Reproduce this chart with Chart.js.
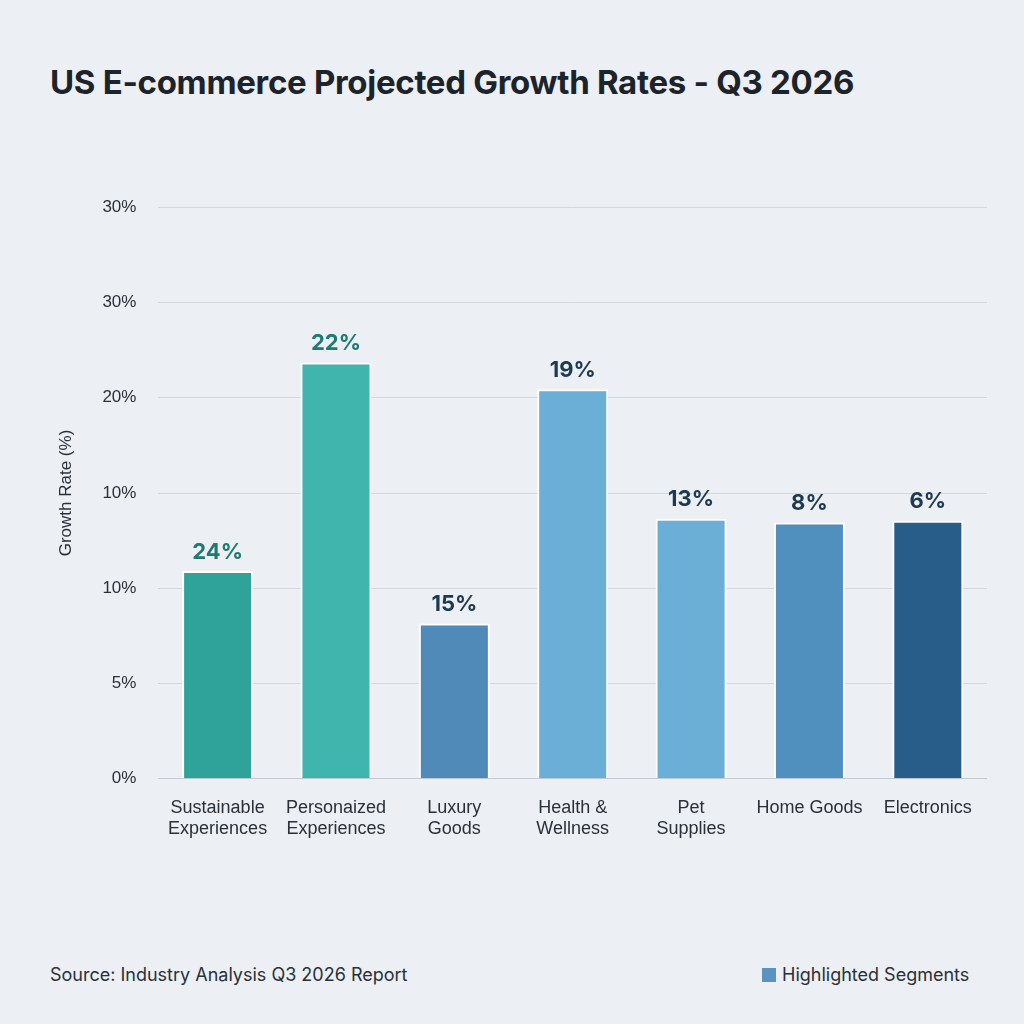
<!DOCTYPE html>
<html>
<head>
<meta charset="utf-8">
<script src="https://cdn.jsdelivr.net/npm/chart.js@4.4.1/dist/chart.umd.min.js"></script>
<style>
  html, body { margin: 0; padding: 0; background: #eceff3; }
  body { width: 1024px; height: 1024px; position: relative; font-family: Inter, "Noto Sans", sans-serif; }
  h1 { position: absolute; left: 50px; top: 62px; margin: 0; font-size: 33px; font-weight: 700; color: #1d232b; letter-spacing: -0.3px; }
  #wrap { position: absolute; left: 52px; top: 175px; width: 935px; height: 675px; }
  .source { position: absolute; left: 50px; top: 964px; font-size: 18px; color: #2a3038; }
  .legend { position: absolute; left: 762px; top: 964px; font-size: 18px; color: #2a3038; }
  .legend span { display: inline-block; width: 14px; height: 14px; background: #5b93c0; margin-right: 6px; vertical-align: -1px; }
</style>
</head>
<body>
<h1>US E-commerce Projected Growth Rates - Q3 2026</h1>
<div id="wrap"><canvas id="chart"></canvas></div>
<div class="source">Source: Industry Analysis Q3 2026 Report</div>
<div class="legend"><span></span>Highlighted Segments</div>
<script>
const categories = [['Sustainable', 'Experiences'], ['Personaized', 'Experiences'], ['Luxury', 'Goods'], ['Health &', 'Wellness'], ['Pet', 'Supplies'], 'Home Goods', 'Electronics'];
// bar heights in axis steps (the printed axis labels are uneven)
const barHeights = [2.18, 4.37, 1.63, 4.09, 2.73, 2.69, 2.71];
const valueLabels = ['24%', '22%', '15%', '19%', '13%', '8%', '6%'];
const tickLabels = ['0%', '5%', '10%', '10%', '20%', '30%', '30%'];
const barColors = ['#2fa39a', '#40b5ad', '#4f8ab8', '#6cafd6', '#6cafd6', '#5090bf', '#285d8a'];
const labelColors = ['#1f7a70', '#1f7a70', '#1e3a4f', '#1e3a4f', '#1e3a4f', '#1e3a4f', '#1e3a4f'];

const valueLabelPlugin = {
  id: 'valueLabels',
  afterDatasetsDraw(chart) {
    const ctx = chart.ctx;
    chart.getDatasetMeta(0).data.forEach((bar, i) => {
      ctx.save();
      ctx.font = '700 22px Inter, "Noto Sans", sans-serif';
      ctx.fillStyle = labelColors[i];
      ctx.textAlign = 'center';
      ctx.textBaseline = 'bottom';
      ctx.fillText(valueLabels[i], bar.x, bar.y - 8);
      ctx.restore();
    });
  }
};

new Chart(document.getElementById('chart'), {
  type: 'bar',
  data: {
    labels: categories,
    datasets: [{
      data: barHeights,
      backgroundColor: barColors,
      borderColor: '#ffffff',
      borderWidth: 2,
      borderSkipped: 'bottom',
      categoryPercentage: 0.6,
      barPercentage: 1
    }]
  },
  options: {
    responsive: true,
    maintainAspectRatio: false,
    animation: false,
    layout: { padding: { top: 10 } },
    plugins: { legend: { display: false }, tooltip: { enabled: false } },
    scales: {
      y: {
        min: 0, max: 6,
        ticks: {
          stepSize: 1,
          color: '#2a3038',
          font: { size: 17 },
          padding: 22,
          callback: (v) => tickLabels[v]
        },
        grid: { color: '#d3d8de', drawTicks: false },
        border: { display: false },
        title: { display: true, text: 'Growth Rate (%)', color: '#2a3038', font: { size: 17 } }
      },
      x: {
        ticks: { color: '#2a3038', font: { size: 18 }, padding: 10, maxRotation: 0 },
        grid: { display: false },
        border: { color: '#c4cad1' }
      }
    }
  },
  plugins: [valueLabelPlugin]
});
</script>
</body>
</html>
